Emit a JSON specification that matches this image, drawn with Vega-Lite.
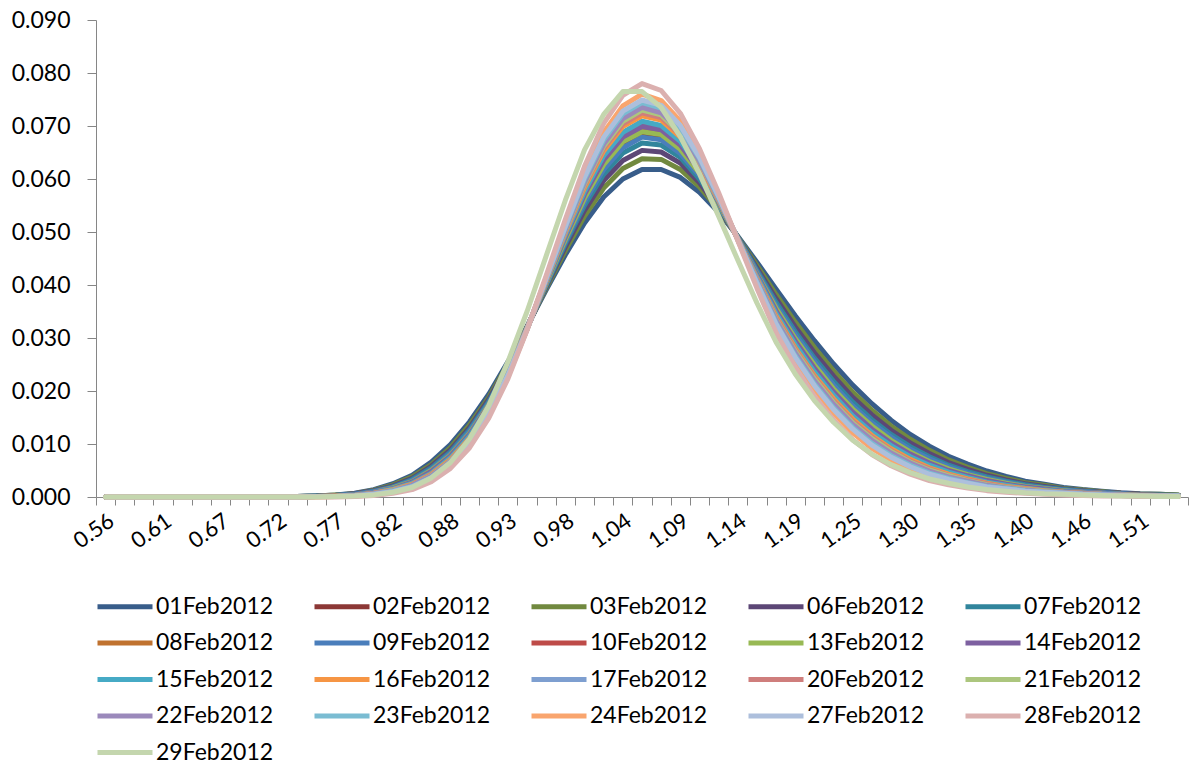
{
"$schema":"https://vega.github.io/schema/vega-lite/v6.json",
"width":1092,"height":477,
"autosize":{"type":"none"},
"padding":{"left":96,"top":20,"right":5,"bottom":268},
"background":"white",
"config":{"view":{"stroke":null},"line":{"strokeWidth":5,"strokeJoin":"round","strokeCap":"round"},"font":"Lato"},
"datasets":{
"d01":[{"x":0.56,"y":0},{"x":0.5776,"y":0},{"x":0.5952,"y":0},{"x":0.6128,"y":0},{"x":0.6304,"y":0},{"x":0.648,"y":0},{"x":0.6656,"y":0},{"x":0.6832,"y":0},{"x":0.7008,"y":0},{"x":0.7184,"y":0},{"x":0.736,"y":0.0001},{"x":0.7536,"y":0.0002},{"x":0.7712,"y":0.0004},{"x":0.7888,"y":0.0007},{"x":0.8064,"y":0.0014},{"x":0.824,"y":0.0025},{"x":0.8416,"y":0.0041},{"x":0.8592,"y":0.0066},{"x":0.8768,"y":0.0099},{"x":0.8944,"y":0.0142},{"x":0.912,"y":0.0194},{"x":0.9296,"y":0.0255},{"x":0.9472,"y":0.0322},{"x":0.9648,"y":0.0391},{"x":0.9824,"y":0.0457},{"x":1,"y":0.0517},{"x":1.0176,"y":0.0566},{"x":1.0352,"y":0.06},{"x":1.0528,"y":0.0618},{"x":1.0704,"y":0.0618},{"x":1.088,"y":0.0603},{"x":1.1056,"y":0.0575},{"x":1.1232,"y":0.0537},{"x":1.1408,"y":0.0492},{"x":1.1584,"y":0.0443},{"x":1.176,"y":0.0392},{"x":1.1936,"y":0.0342},{"x":1.2112,"y":0.0295},{"x":1.2288,"y":0.0251},{"x":1.2464,"y":0.0211},{"x":1.264,"y":0.0176},{"x":1.2816,"y":0.0145},{"x":1.2992,"y":0.0118},{"x":1.3168,"y":0.0096},{"x":1.3344,"y":0.0077},{"x":1.352,"y":0.0062},{"x":1.3696,"y":0.0049},{"x":1.3872,"y":0.0039},{"x":1.4048,"y":0.003},{"x":1.4224,"y":0.0024},{"x":1.44,"y":0.0018},{"x":1.4576,"y":0.0014},{"x":1.4752,"y":0.0011},{"x":1.4928,"y":0.0008},{"x":1.5104,"y":0.0006},{"x":1.528,"y":0.0005},{"x":1.5456,"y":0.0004}],
"d02":[{"x":0.56,"y":0},{"x":0.5776,"y":0},{"x":0.5952,"y":0},{"x":0.6128,"y":0},{"x":0.6304,"y":0},{"x":0.648,"y":0},{"x":0.6656,"y":0},{"x":0.6832,"y":0},{"x":0.7008,"y":0},{"x":0.7184,"y":0},{"x":0.736,"y":0.0001},{"x":0.7536,"y":0.0001},{"x":0.7712,"y":0.0002},{"x":0.7888,"y":0.0005},{"x":0.8064,"y":0.0009},{"x":0.824,"y":0.0018},{"x":0.8416,"y":0.003},{"x":0.8592,"y":0.0051},{"x":0.8768,"y":0.0081},{"x":0.8944,"y":0.0122},{"x":0.912,"y":0.0176},{"x":0.9296,"y":0.0242},{"x":0.9472,"y":0.0319},{"x":0.9648,"y":0.0402},{"x":0.9824,"y":0.0484},{"x":1,"y":0.0561},{"x":1.0176,"y":0.0623},{"x":1.0352,"y":0.0665},{"x":1.0528,"y":0.0684},{"x":1.0704,"y":0.0679},{"x":1.088,"y":0.0653},{"x":1.1056,"y":0.0609},{"x":1.1232,"y":0.0552},{"x":1.1408,"y":0.0489},{"x":1.1584,"y":0.0423},{"x":1.176,"y":0.0358},{"x":1.1936,"y":0.0302},{"x":1.2112,"y":0.0252},{"x":1.2288,"y":0.0208},{"x":1.2464,"y":0.0169},{"x":1.264,"y":0.0137},{"x":1.2816,"y":0.011},{"x":1.2992,"y":0.0087},{"x":1.3168,"y":0.0069},{"x":1.3344,"y":0.0055},{"x":1.352,"y":0.0044},{"x":1.3696,"y":0.0034},{"x":1.3872,"y":0.0027},{"x":1.4048,"y":0.0021},{"x":1.4224,"y":0.0016},{"x":1.44,"y":0.0012},{"x":1.4576,"y":0.0009},{"x":1.4752,"y":0.0007},{"x":1.4928,"y":0.0006},{"x":1.5104,"y":0.0004},{"x":1.528,"y":0.0003},{"x":1.5456,"y":0.0003}],
"d03":[{"x":0.56,"y":0},{"x":0.5776,"y":0},{"x":0.5952,"y":0},{"x":0.6128,"y":0},{"x":0.6304,"y":0},{"x":0.648,"y":0},{"x":0.6656,"y":0},{"x":0.6832,"y":0},{"x":0.7008,"y":0},{"x":0.7184,"y":0},{"x":0.736,"y":0.0001},{"x":0.7536,"y":0.0002},{"x":0.7712,"y":0.0004},{"x":0.7888,"y":0.0006},{"x":0.8064,"y":0.0013},{"x":0.824,"y":0.0023},{"x":0.8416,"y":0.0038},{"x":0.8592,"y":0.0061},{"x":0.8768,"y":0.0093},{"x":0.8944,"y":0.0136},{"x":0.912,"y":0.0188},{"x":0.9296,"y":0.0251},{"x":0.9472,"y":0.0321},{"x":0.9648,"y":0.0394},{"x":0.9824,"y":0.0465},{"x":1,"y":0.053},{"x":1.0176,"y":0.0583},{"x":1.0352,"y":0.062},{"x":1.0528,"y":0.0638},{"x":1.0704,"y":0.0637},{"x":1.088,"y":0.0618},{"x":1.1056,"y":0.0585},{"x":1.1232,"y":0.0542},{"x":1.1408,"y":0.0491},{"x":1.1584,"y":0.0437},{"x":1.176,"y":0.0382},{"x":1.1936,"y":0.033},{"x":1.2112,"y":0.0282},{"x":1.2288,"y":0.0238},{"x":1.2464,"y":0.0198},{"x":1.264,"y":0.0164},{"x":1.2816,"y":0.0134},{"x":1.2992,"y":0.0109},{"x":1.3168,"y":0.0088},{"x":1.3344,"y":0.007},{"x":1.352,"y":0.0056},{"x":1.3696,"y":0.0044},{"x":1.3872,"y":0.0035},{"x":1.4048,"y":0.0027},{"x":1.4224,"y":0.0022},{"x":1.44,"y":0.0016},{"x":1.4576,"y":0.0013},{"x":1.4752,"y":0.001},{"x":1.4928,"y":0.0007},{"x":1.5104,"y":0.0005},{"x":1.528,"y":0.0005},{"x":1.5456,"y":0.0004}],
"d06":[{"x":0.56,"y":0},{"x":0.5776,"y":0},{"x":0.5952,"y":0},{"x":0.6128,"y":0},{"x":0.6304,"y":0},{"x":0.648,"y":0},{"x":0.6656,"y":0},{"x":0.6832,"y":0},{"x":0.7008,"y":0},{"x":0.7184,"y":0},{"x":0.736,"y":0.0001},{"x":0.7536,"y":0.0002},{"x":0.7712,"y":0.0003},{"x":0.7888,"y":0.0006},{"x":0.8064,"y":0.0012},{"x":0.824,"y":0.0021},{"x":0.8416,"y":0.0035},{"x":0.8592,"y":0.0058},{"x":0.8768,"y":0.0089},{"x":0.8944,"y":0.0131},{"x":0.912,"y":0.0184},{"x":0.9296,"y":0.0248},{"x":0.9472,"y":0.032},{"x":0.9648,"y":0.0397},{"x":0.9824,"y":0.0472},{"x":1,"y":0.0541},{"x":1.0176,"y":0.0597},{"x":1.0352,"y":0.0635},{"x":1.0528,"y":0.0654},{"x":1.0704,"y":0.0651},{"x":1.088,"y":0.063},{"x":1.1056,"y":0.0593},{"x":1.1232,"y":0.0545},{"x":1.1408,"y":0.049},{"x":1.1584,"y":0.0432},{"x":1.176,"y":0.0374},{"x":1.1936,"y":0.0321},{"x":1.2112,"y":0.0272},{"x":1.2288,"y":0.0228},{"x":1.2464,"y":0.0188},{"x":1.264,"y":0.0155},{"x":1.2816,"y":0.0126},{"x":1.2992,"y":0.0102},{"x":1.3168,"y":0.0082},{"x":1.3344,"y":0.0065},{"x":1.352,"y":0.0052},{"x":1.3696,"y":0.0041},{"x":1.3872,"y":0.0032},{"x":1.4048,"y":0.0025},{"x":1.4224,"y":0.002},{"x":1.44,"y":0.0015},{"x":1.4576,"y":0.0012},{"x":1.4752,"y":0.0009},{"x":1.4928,"y":0.0007},{"x":1.5104,"y":0.0005},{"x":1.528,"y":0.0004},{"x":1.5456,"y":0.0003}],
"d07":[{"x":0.56,"y":0},{"x":0.5776,"y":0},{"x":0.5952,"y":0},{"x":0.6128,"y":0},{"x":0.6304,"y":0},{"x":0.648,"y":0},{"x":0.6656,"y":0},{"x":0.6832,"y":0},{"x":0.7008,"y":0},{"x":0.7184,"y":0},{"x":0.736,"y":0.0001},{"x":0.7536,"y":0.0002},{"x":0.7712,"y":0.0003},{"x":0.7888,"y":0.0005},{"x":0.8064,"y":0.0011},{"x":0.824,"y":0.0019},{"x":0.8416,"y":0.0033},{"x":0.8592,"y":0.0055},{"x":0.8768,"y":0.0085},{"x":0.8944,"y":0.0127},{"x":0.912,"y":0.018},{"x":0.9296,"y":0.0245},{"x":0.9472,"y":0.032},{"x":0.9648,"y":0.0399},{"x":0.9824,"y":0.0478},{"x":1,"y":0.055},{"x":1.0176,"y":0.0609},{"x":1.0352,"y":0.0649},{"x":1.0528,"y":0.0668},{"x":1.0704,"y":0.0664},{"x":1.088,"y":0.0641},{"x":1.1056,"y":0.06},{"x":1.1232,"y":0.0548},{"x":1.1408,"y":0.049},{"x":1.1584,"y":0.0428},{"x":1.176,"y":0.0367},{"x":1.1936,"y":0.0312},{"x":1.2112,"y":0.0262},{"x":1.2288,"y":0.0218},{"x":1.2464,"y":0.0179},{"x":1.264,"y":0.0146},{"x":1.2816,"y":0.0118},{"x":1.2992,"y":0.0095},{"x":1.3168,"y":0.0076},{"x":1.3344,"y":0.006},{"x":1.352,"y":0.0048},{"x":1.3696,"y":0.0038},{"x":1.3872,"y":0.003},{"x":1.4048,"y":0.0023},{"x":1.4224,"y":0.0018},{"x":1.44,"y":0.0014},{"x":1.4576,"y":0.0011},{"x":1.4752,"y":0.0008},{"x":1.4928,"y":0.0006},{"x":1.5104,"y":0.0004},{"x":1.528,"y":0.0004},{"x":1.5456,"y":0.0003}],
"d08":[{"x":0.56,"y":0},{"x":0.5776,"y":0},{"x":0.5952,"y":0},{"x":0.6128,"y":0},{"x":0.6304,"y":0},{"x":0.648,"y":0},{"x":0.6656,"y":0},{"x":0.6832,"y":0},{"x":0.7008,"y":0},{"x":0.7184,"y":0},{"x":0.736,"y":0.0001},{"x":0.7536,"y":0.0001},{"x":0.7712,"y":0.0002},{"x":0.7888,"y":0.0004},{"x":0.8064,"y":0.0009},{"x":0.824,"y":0.0017},{"x":0.8416,"y":0.0028},{"x":0.8592,"y":0.0049},{"x":0.8768,"y":0.0078},{"x":0.8944,"y":0.0119},{"x":0.912,"y":0.0173},{"x":0.9296,"y":0.024},{"x":0.9472,"y":0.0319},{"x":0.9648,"y":0.0404},{"x":0.9824,"y":0.0488},{"x":1,"y":0.0567},{"x":1.0176,"y":0.0631},{"x":1.0352,"y":0.0674},{"x":1.0528,"y":0.0694},{"x":1.0704,"y":0.0688},{"x":1.088,"y":0.066},{"x":1.1056,"y":0.0614},{"x":1.1232,"y":0.0554},{"x":1.1408,"y":0.0488},{"x":1.1584,"y":0.042},{"x":1.176,"y":0.0353},{"x":1.1936,"y":0.0296},{"x":1.2112,"y":0.0246},{"x":1.2288,"y":0.0201},{"x":1.2464,"y":0.0163},{"x":1.264,"y":0.0131},{"x":1.2816,"y":0.0105},{"x":1.2992,"y":0.0083},{"x":1.3168,"y":0.0065},{"x":1.3344,"y":0.0052},{"x":1.352,"y":0.0041},{"x":1.3696,"y":0.0032},{"x":1.3872,"y":0.0025},{"x":1.4048,"y":0.0019},{"x":1.4224,"y":0.0015},{"x":1.44,"y":0.0011},{"x":1.4576,"y":0.0009},{"x":1.4752,"y":0.0007},{"x":1.4928,"y":0.0005},{"x":1.5104,"y":0.0004},{"x":1.528,"y":0.0003},{"x":1.5456,"y":0.0003}],
"d09":[{"x":0.56,"y":0},{"x":0.5776,"y":0},{"x":0.5952,"y":0},{"x":0.6128,"y":0},{"x":0.6304,"y":0},{"x":0.648,"y":0},{"x":0.6656,"y":0},{"x":0.6832,"y":0},{"x":0.7008,"y":0},{"x":0.7184,"y":0},{"x":0.736,"y":0.0001},{"x":0.7536,"y":0.0001},{"x":0.7712,"y":0.0003},{"x":0.7888,"y":0.0005},{"x":0.8064,"y":0.001},{"x":0.824,"y":0.0018},{"x":0.8416,"y":0.0031},{"x":0.8592,"y":0.0052},{"x":0.8768,"y":0.0082},{"x":0.8944,"y":0.0124},{"x":0.912,"y":0.0177},{"x":0.9296,"y":0.0243},{"x":0.9472,"y":0.0319},{"x":0.9648,"y":0.0401},{"x":0.9824,"y":0.0482},{"x":1,"y":0.0557},{"x":1.0176,"y":0.0618},{"x":1.0352,"y":0.0659},{"x":1.0528,"y":0.0679},{"x":1.0704,"y":0.0674},{"x":1.088,"y":0.0648},{"x":1.1056,"y":0.0606},{"x":1.1232,"y":0.0551},{"x":1.1408,"y":0.0489},{"x":1.1584,"y":0.0425},{"x":1.176,"y":0.0361},{"x":1.1936,"y":0.0306},{"x":1.2112,"y":0.0256},{"x":1.2288,"y":0.0211},{"x":1.2464,"y":0.0172},{"x":1.264,"y":0.014},{"x":1.2816,"y":0.0113},{"x":1.2992,"y":0.009},{"x":1.3168,"y":0.0072},{"x":1.3344,"y":0.0057},{"x":1.352,"y":0.0045},{"x":1.3696,"y":0.0035},{"x":1.3872,"y":0.0028},{"x":1.4048,"y":0.0021},{"x":1.4224,"y":0.0017},{"x":1.44,"y":0.0013},{"x":1.4576,"y":0.001},{"x":1.4752,"y":0.0008},{"x":1.4928,"y":0.0006},{"x":1.5104,"y":0.0004},{"x":1.528,"y":0.0003},{"x":1.5456,"y":0.0003}],
"d10":[{"x":0.56,"y":0},{"x":0.5776,"y":0},{"x":0.5952,"y":0},{"x":0.6128,"y":0},{"x":0.6304,"y":0},{"x":0.648,"y":0},{"x":0.6656,"y":0},{"x":0.6832,"y":0},{"x":0.7008,"y":0},{"x":0.7184,"y":0},{"x":0.736,"y":0.0001},{"x":0.7536,"y":0.0001},{"x":0.7712,"y":0.0002},{"x":0.7888,"y":0.0004},{"x":0.8064,"y":0.0008},{"x":0.824,"y":0.0015},{"x":0.8416,"y":0.0027},{"x":0.8592,"y":0.0046},{"x":0.8768,"y":0.0075},{"x":0.8944,"y":0.0116},{"x":0.912,"y":0.017},{"x":0.9296,"y":0.0238},{"x":0.9472,"y":0.0318},{"x":0.9648,"y":0.0405},{"x":0.9824,"y":0.0493},{"x":1,"y":0.0574},{"x":1.0176,"y":0.064},{"x":1.0352,"y":0.0684},{"x":1.0528,"y":0.0704},{"x":1.0704,"y":0.0697},{"x":1.088,"y":0.0667},{"x":1.1056,"y":0.0618},{"x":1.1232,"y":0.0557},{"x":1.1408,"y":0.0488},{"x":1.1584,"y":0.0417},{"x":1.176,"y":0.0349},{"x":1.1936,"y":0.0291},{"x":1.2112,"y":0.0239},{"x":1.2288,"y":0.0195},{"x":1.2464,"y":0.0156},{"x":1.264,"y":0.0125},{"x":1.2816,"y":0.0099},{"x":1.2992,"y":0.0078},{"x":1.3168,"y":0.0062},{"x":1.3344,"y":0.0048},{"x":1.352,"y":0.0038},{"x":1.3696,"y":0.0029},{"x":1.3872,"y":0.0023},{"x":1.4048,"y":0.0018},{"x":1.4224,"y":0.0014},{"x":1.44,"y":0.0011},{"x":1.4576,"y":0.0008},{"x":1.4752,"y":0.0006},{"x":1.4928,"y":0.0005},{"x":1.5104,"y":0.0003},{"x":1.528,"y":0.0003},{"x":1.5456,"y":0.0002}],
"d13":[{"x":0.56,"y":0},{"x":0.5776,"y":0},{"x":0.5952,"y":0},{"x":0.6128,"y":0},{"x":0.6304,"y":0},{"x":0.648,"y":0},{"x":0.6656,"y":0},{"x":0.6832,"y":0},{"x":0.7008,"y":0},{"x":0.7184,"y":0},{"x":0.736,"y":0.0001},{"x":0.7536,"y":0.0001},{"x":0.7712,"y":0.0002},{"x":0.7888,"y":0.0004},{"x":0.8064,"y":0.0009},{"x":0.824,"y":0.0017},{"x":0.8416,"y":0.0029},{"x":0.8592,"y":0.005},{"x":0.8768,"y":0.0079},{"x":0.8944,"y":0.012},{"x":0.912,"y":0.0174},{"x":0.9296,"y":0.0241},{"x":0.9472,"y":0.0319},{"x":0.9648,"y":0.0403},{"x":0.9824,"y":0.0486},{"x":1,"y":0.0564},{"x":1.0176,"y":0.0627},{"x":1.0352,"y":0.067},{"x":1.0528,"y":0.0689},{"x":1.0704,"y":0.0684},{"x":1.088,"y":0.0656},{"x":1.1056,"y":0.0611},{"x":1.1232,"y":0.0553},{"x":1.1408,"y":0.0488},{"x":1.1584,"y":0.0421},{"x":1.176,"y":0.0356},{"x":1.1936,"y":0.0299},{"x":1.2112,"y":0.0249},{"x":1.2288,"y":0.0204},{"x":1.2464,"y":0.0166},{"x":1.264,"y":0.0134},{"x":1.2816,"y":0.0107},{"x":1.2992,"y":0.0085},{"x":1.3168,"y":0.0067},{"x":1.3344,"y":0.0053},{"x":1.352,"y":0.0042},{"x":1.3696,"y":0.0033},{"x":1.3872,"y":0.0026},{"x":1.4048,"y":0.002},{"x":1.4224,"y":0.0016},{"x":1.44,"y":0.0012},{"x":1.4576,"y":0.0009},{"x":1.4752,"y":0.0007},{"x":1.4928,"y":0.0005},{"x":1.5104,"y":0.0004},{"x":1.528,"y":0.0003},{"x":1.5456,"y":0.0003}],
"d14":[{"x":0.56,"y":0},{"x":0.5776,"y":0},{"x":0.5952,"y":0},{"x":0.6128,"y":0},{"x":0.6304,"y":0},{"x":0.648,"y":0},{"x":0.6656,"y":0},{"x":0.6832,"y":0},{"x":0.7008,"y":0},{"x":0.7184,"y":0},{"x":0.736,"y":0.0001},{"x":0.7536,"y":0.0001},{"x":0.7712,"y":0.0002},{"x":0.7888,"y":0.0004},{"x":0.8064,"y":0.0009},{"x":0.824,"y":0.0016},{"x":0.8416,"y":0.0028},{"x":0.8592,"y":0.0048},{"x":0.8768,"y":0.0077},{"x":0.8944,"y":0.0118},{"x":0.912,"y":0.0172},{"x":0.9296,"y":0.0239},{"x":0.9472,"y":0.0319},{"x":0.9648,"y":0.0405},{"x":0.9824,"y":0.0491},{"x":1,"y":0.0571},{"x":1.0176,"y":0.0636},{"x":1.0352,"y":0.0679},{"x":1.0528,"y":0.0699},{"x":1.0704,"y":0.0693},{"x":1.088,"y":0.0664},{"x":1.1056,"y":0.0616},{"x":1.1232,"y":0.0556},{"x":1.1408,"y":0.0488},{"x":1.1584,"y":0.0419},{"x":1.176,"y":0.0351},{"x":1.1936,"y":0.0294},{"x":1.2112,"y":0.0243},{"x":1.2288,"y":0.0198},{"x":1.2464,"y":0.016},{"x":1.264,"y":0.0128},{"x":1.2816,"y":0.0102},{"x":1.2992,"y":0.0081},{"x":1.3168,"y":0.0064},{"x":1.3344,"y":0.005},{"x":1.352,"y":0.004},{"x":1.3696,"y":0.0031},{"x":1.3872,"y":0.0024},{"x":1.4048,"y":0.0019},{"x":1.4224,"y":0.0015},{"x":1.44,"y":0.0011},{"x":1.4576,"y":0.0009},{"x":1.4752,"y":0.0007},{"x":1.4928,"y":0.0005},{"x":1.5104,"y":0.0004},{"x":1.528,"y":0.0003},{"x":1.5456,"y":0.0003}],
"d15":[{"x":0.56,"y":0},{"x":0.5776,"y":0},{"x":0.5952,"y":0},{"x":0.6128,"y":0},{"x":0.6304,"y":0},{"x":0.648,"y":0},{"x":0.6656,"y":0},{"x":0.6832,"y":0},{"x":0.7008,"y":0},{"x":0.7184,"y":0},{"x":0.736,"y":0.0001},{"x":0.7536,"y":0.0001},{"x":0.7712,"y":0.0002},{"x":0.7888,"y":0.0004},{"x":0.8064,"y":0.0008},{"x":0.824,"y":0.0015},{"x":0.8416,"y":0.0026},{"x":0.8592,"y":0.0045},{"x":0.8768,"y":0.0074},{"x":0.8944,"y":0.0115},{"x":0.912,"y":0.0169},{"x":0.9296,"y":0.0237},{"x":0.9472,"y":0.0318},{"x":0.9648,"y":0.0406},{"x":0.9824,"y":0.0495},{"x":1,"y":0.0577},{"x":1.0176,"y":0.0644},{"x":1.0352,"y":0.0688},{"x":1.0528,"y":0.0709},{"x":1.0704,"y":0.0701},{"x":1.088,"y":0.0671},{"x":1.1056,"y":0.0621},{"x":1.1232,"y":0.0558},{"x":1.1408,"y":0.0488},{"x":1.1584,"y":0.0416},{"x":1.176,"y":0.0346},{"x":1.1936,"y":0.0288},{"x":1.2112,"y":0.0236},{"x":1.2288,"y":0.0192},{"x":1.2464,"y":0.0153},{"x":1.264,"y":0.0122},{"x":1.2816,"y":0.0097},{"x":1.2992,"y":0.0076},{"x":1.3168,"y":0.006},{"x":1.3344,"y":0.0047},{"x":1.352,"y":0.0037},{"x":1.3696,"y":0.0028},{"x":1.3872,"y":0.0022},{"x":1.4048,"y":0.0017},{"x":1.4224,"y":0.0013},{"x":1.44,"y":0.001},{"x":1.4576,"y":0.0008},{"x":1.4752,"y":0.0006},{"x":1.4928,"y":0.0005},{"x":1.5104,"y":0.0003},{"x":1.528,"y":0.0003},{"x":1.5456,"y":0.0002}],
"d16":[{"x":0.56,"y":0},{"x":0.5776,"y":0},{"x":0.5952,"y":0},{"x":0.6128,"y":0},{"x":0.6304,"y":0},{"x":0.648,"y":0},{"x":0.6656,"y":0},{"x":0.6832,"y":0},{"x":0.7008,"y":0},{"x":0.7184,"y":0},{"x":0.736,"y":0},{"x":0.7536,"y":0.0001},{"x":0.7712,"y":0.0002},{"x":0.7888,"y":0.0003},{"x":0.8064,"y":0.0007},{"x":0.824,"y":0.0014},{"x":0.8416,"y":0.0024},{"x":0.8592,"y":0.0043},{"x":0.8768,"y":0.0071},{"x":0.8944,"y":0.0111},{"x":0.912,"y":0.0166},{"x":0.9296,"y":0.0235},{"x":0.9472,"y":0.0318},{"x":0.9648,"y":0.0408},{"x":0.9824,"y":0.0499},{"x":1,"y":0.0584},{"x":1.0176,"y":0.0653},{"x":1.0352,"y":0.0699},{"x":1.0528,"y":0.0719},{"x":1.0704,"y":0.0711},{"x":1.088,"y":0.0679},{"x":1.1056,"y":0.0626},{"x":1.1232,"y":0.056},{"x":1.1408,"y":0.0487},{"x":1.1584,"y":0.0412},{"x":1.176,"y":0.0341},{"x":1.1936,"y":0.0281},{"x":1.2112,"y":0.0229},{"x":1.2288,"y":0.0185},{"x":1.2464,"y":0.0147},{"x":1.264,"y":0.0116},{"x":1.2816,"y":0.0091},{"x":1.2992,"y":0.0071},{"x":1.3168,"y":0.0055},{"x":1.3344,"y":0.0043},{"x":1.352,"y":0.0034},{"x":1.3696,"y":0.0026},{"x":1.3872,"y":0.002},{"x":1.4048,"y":0.0016},{"x":1.4224,"y":0.0012},{"x":1.44,"y":0.0009},{"x":1.4576,"y":0.0007},{"x":1.4752,"y":0.0005},{"x":1.4928,"y":0.0004},{"x":1.5104,"y":0.0003},{"x":1.528,"y":0.0002},{"x":1.5456,"y":0.0002}],
"d17":[{"x":0.56,"y":0},{"x":0.5776,"y":0},{"x":0.5952,"y":0},{"x":0.6128,"y":0},{"x":0.6304,"y":0},{"x":0.648,"y":0},{"x":0.6656,"y":0},{"x":0.6832,"y":0},{"x":0.7008,"y":0},{"x":0.7184,"y":0},{"x":0.736,"y":0},{"x":0.7536,"y":0.0001},{"x":0.7712,"y":0.0001},{"x":0.7888,"y":0.0003},{"x":0.8064,"y":0.0006},{"x":0.824,"y":0.0012},{"x":0.8416,"y":0.0021},{"x":0.8592,"y":0.0038},{"x":0.8768,"y":0.0065},{"x":0.8944,"y":0.0105},{"x":0.912,"y":0.016},{"x":0.9296,"y":0.0231},{"x":0.9472,"y":0.0317},{"x":0.9648,"y":0.0411},{"x":0.9824,"y":0.0507},{"x":1,"y":0.0597},{"x":1.0176,"y":0.067},{"x":1.0352,"y":0.0719},{"x":1.0528,"y":0.074},{"x":1.0704,"y":0.073},{"x":1.088,"y":0.0694},{"x":1.1056,"y":0.0637},{"x":1.1232,"y":0.0565},{"x":1.1408,"y":0.0486},{"x":1.1584,"y":0.0406},{"x":1.176,"y":0.0331},{"x":1.1936,"y":0.0269},{"x":1.2112,"y":0.0216},{"x":1.2288,"y":0.0172},{"x":1.2464,"y":0.0134},{"x":1.264,"y":0.0104},{"x":1.2816,"y":0.0081},{"x":1.2992,"y":0.0062},{"x":1.3168,"y":0.0047},{"x":1.3344,"y":0.0037},{"x":1.352,"y":0.0028},{"x":1.3696,"y":0.0021},{"x":1.3872,"y":0.0017},{"x":1.4048,"y":0.0013},{"x":1.4224,"y":0.001},{"x":1.44,"y":0.0008},{"x":1.4576,"y":0.0006},{"x":1.4752,"y":0.0004},{"x":1.4928,"y":0.0004},{"x":1.5104,"y":0.0002},{"x":1.528,"y":0.0002},{"x":1.5456,"y":0.0002}],
"d20":[{"x":0.56,"y":0},{"x":0.5776,"y":0},{"x":0.5952,"y":0},{"x":0.6128,"y":0},{"x":0.6304,"y":0},{"x":0.648,"y":0},{"x":0.6656,"y":0},{"x":0.6832,"y":0},{"x":0.7008,"y":0},{"x":0.7184,"y":0},{"x":0.736,"y":0},{"x":0.7536,"y":0.0001},{"x":0.7712,"y":0.0001},{"x":0.7888,"y":0.0003},{"x":0.8064,"y":0.0007},{"x":0.824,"y":0.0013},{"x":0.8416,"y":0.0023},{"x":0.8592,"y":0.0042},{"x":0.8768,"y":0.0069},{"x":0.8944,"y":0.011},{"x":0.912,"y":0.0164},{"x":0.9296,"y":0.0234},{"x":0.9472,"y":0.0317},{"x":0.9648,"y":0.0409},{"x":0.9824,"y":0.0501},{"x":1,"y":0.0588},{"x":1.0176,"y":0.0658},{"x":1.0352,"y":0.0704},{"x":1.0528,"y":0.0725},{"x":1.0704,"y":0.0716},{"x":1.088,"y":0.0683},{"x":1.1056,"y":0.0629},{"x":1.1232,"y":0.0561},{"x":1.1408,"y":0.0487},{"x":1.1584,"y":0.0411},{"x":1.176,"y":0.0338},{"x":1.1936,"y":0.0278},{"x":1.2112,"y":0.0226},{"x":1.2288,"y":0.0181},{"x":1.2464,"y":0.0143},{"x":1.264,"y":0.0113},{"x":1.2816,"y":0.0088},{"x":1.2992,"y":0.0068},{"x":1.3168,"y":0.0053},{"x":1.3344,"y":0.0041},{"x":1.352,"y":0.0032},{"x":1.3696,"y":0.0025},{"x":1.3872,"y":0.0019},{"x":1.4048,"y":0.0015},{"x":1.4224,"y":0.0011},{"x":1.44,"y":0.0009},{"x":1.4576,"y":0.0007},{"x":1.4752,"y":0.0005},{"x":1.4928,"y":0.0004},{"x":1.5104,"y":0.0003},{"x":1.528,"y":0.0002},{"x":1.5456,"y":0.0002}],
"d21":[{"x":0.56,"y":0},{"x":0.5776,"y":0},{"x":0.5952,"y":0},{"x":0.6128,"y":0},{"x":0.6304,"y":0},{"x":0.648,"y":0},{"x":0.6656,"y":0},{"x":0.6832,"y":0},{"x":0.7008,"y":0},{"x":0.7184,"y":0},{"x":0.736,"y":0},{"x":0.7536,"y":0.0001},{"x":0.7712,"y":0.0001},{"x":0.7888,"y":0.0003},{"x":0.8064,"y":0.0006},{"x":0.824,"y":0.0013},{"x":0.8416,"y":0.0022},{"x":0.8592,"y":0.004},{"x":0.8768,"y":0.0068},{"x":0.8944,"y":0.0108},{"x":0.912,"y":0.0163},{"x":0.9296,"y":0.0233},{"x":0.9472,"y":0.0317},{"x":0.9648,"y":0.041},{"x":0.9824,"y":0.0503},{"x":1,"y":0.0591},{"x":1.0176,"y":0.0662},{"x":1.0352,"y":0.0709},{"x":1.0528,"y":0.073},{"x":1.0704,"y":0.0721},{"x":1.088,"y":0.0686},{"x":1.1056,"y":0.0632},{"x":1.1232,"y":0.0563},{"x":1.1408,"y":0.0486},{"x":1.1584,"y":0.0409},{"x":1.176,"y":0.0335},{"x":1.1936,"y":0.0275},{"x":1.2112,"y":0.0223},{"x":1.2288,"y":0.0178},{"x":1.2464,"y":0.014},{"x":1.264,"y":0.011},{"x":1.2816,"y":0.0086},{"x":1.2992,"y":0.0066},{"x":1.3168,"y":0.0051},{"x":1.3344,"y":0.004},{"x":1.352,"y":0.0031},{"x":1.3696,"y":0.0023},{"x":1.3872,"y":0.0018},{"x":1.4048,"y":0.0014},{"x":1.4224,"y":0.0011},{"x":1.44,"y":0.0008},{"x":1.4576,"y":0.0006},{"x":1.4752,"y":0.0005},{"x":1.4928,"y":0.0004},{"x":1.5104,"y":0.0003},{"x":1.528,"y":0.0002},{"x":1.5456,"y":0.0002}],
"d22":[{"x":0.56,"y":0},{"x":0.5776,"y":0},{"x":0.5952,"y":0},{"x":0.6128,"y":0},{"x":0.6304,"y":0},{"x":0.648,"y":0},{"x":0.6656,"y":0},{"x":0.6832,"y":0},{"x":0.7008,"y":0},{"x":0.7184,"y":0},{"x":0.736,"y":0},{"x":0.7536,"y":0.0001},{"x":0.7712,"y":0.0001},{"x":0.7888,"y":0.0003},{"x":0.8064,"y":0.0006},{"x":0.824,"y":0.0012},{"x":0.8416,"y":0.0022},{"x":0.8592,"y":0.0039},{"x":0.8768,"y":0.0067},{"x":0.8944,"y":0.0107},{"x":0.912,"y":0.0162},{"x":0.9296,"y":0.0232},{"x":0.9472,"y":0.0317},{"x":0.9648,"y":0.041},{"x":0.9824,"y":0.0505},{"x":1,"y":0.0594},{"x":1.0176,"y":0.0666},{"x":1.0352,"y":0.0714},{"x":1.0528,"y":0.0735},{"x":1.0704,"y":0.0725},{"x":1.088,"y":0.069},{"x":1.1056,"y":0.0634},{"x":1.1232,"y":0.0564},{"x":1.1408,"y":0.0486},{"x":1.1584,"y":0.0408},{"x":1.176,"y":0.0333},{"x":1.1936,"y":0.0272},{"x":1.2112,"y":0.0219},{"x":1.2288,"y":0.0175},{"x":1.2464,"y":0.0137},{"x":1.264,"y":0.0107},{"x":1.2816,"y":0.0083},{"x":1.2992,"y":0.0064},{"x":1.3168,"y":0.0049},{"x":1.3344,"y":0.0038},{"x":1.352,"y":0.003},{"x":1.3696,"y":0.0022},{"x":1.3872,"y":0.0017},{"x":1.4048,"y":0.0013},{"x":1.4224,"y":0.001},{"x":1.44,"y":0.0008},{"x":1.4576,"y":0.0006},{"x":1.4752,"y":0.0005},{"x":1.4928,"y":0.0004},{"x":1.5104,"y":0.0002},{"x":1.528,"y":0.0002},{"x":1.5456,"y":0.0002}],
"d23":[{"x":0.56,"y":0},{"x":0.5776,"y":0},{"x":0.5952,"y":0},{"x":0.6128,"y":0},{"x":0.6304,"y":0},{"x":0.648,"y":0},{"x":0.6656,"y":0},{"x":0.6832,"y":0},{"x":0.7008,"y":0},{"x":0.7184,"y":0},{"x":0.736,"y":0},{"x":0.7536,"y":0.0001},{"x":0.7712,"y":0.0001},{"x":0.7888,"y":0.0002},{"x":0.8064,"y":0.0005},{"x":0.824,"y":0.0011},{"x":0.8416,"y":0.002},{"x":0.8592,"y":0.0037},{"x":0.8768,"y":0.0064},{"x":0.8944,"y":0.0104},{"x":0.912,"y":0.0159},{"x":0.9296,"y":0.023},{"x":0.9472,"y":0.0317},{"x":0.9648,"y":0.0412},{"x":0.9824,"y":0.0509},{"x":1,"y":0.06},{"x":1.0176,"y":0.0674},{"x":1.0352,"y":0.0723},{"x":1.0528,"y":0.0744},{"x":1.0704,"y":0.0734},{"x":1.088,"y":0.0697},{"x":1.1056,"y":0.0639},{"x":1.1232,"y":0.0566},{"x":1.1408,"y":0.0486},{"x":1.1584,"y":0.0405},{"x":1.176,"y":0.0328},{"x":1.1936,"y":0.0266},{"x":1.2112,"y":0.0213},{"x":1.2288,"y":0.0168},{"x":1.2464,"y":0.0131},{"x":1.264,"y":0.0101},{"x":1.2816,"y":0.0078},{"x":1.2992,"y":0.006},{"x":1.3168,"y":0.0045},{"x":1.3344,"y":0.0035},{"x":1.352,"y":0.0027},{"x":1.3696,"y":0.002},{"x":1.3872,"y":0.0016},{"x":1.4048,"y":0.0012},{"x":1.4224,"y":0.0009},{"x":1.44,"y":0.0007},{"x":1.4576,"y":0.0005},{"x":1.4752,"y":0.0004},{"x":1.4928,"y":0.0003},{"x":1.5104,"y":0.0002},{"x":1.528,"y":0.0002},{"x":1.5456,"y":0.0002}],
"d24":[{"x":0.56,"y":0},{"x":0.5776,"y":0},{"x":0.5952,"y":0},{"x":0.6128,"y":0},{"x":0.6304,"y":0},{"x":0.648,"y":0},{"x":0.6656,"y":0},{"x":0.6832,"y":0},{"x":0.7008,"y":0},{"x":0.7184,"y":0},{"x":0.736,"y":0},{"x":0.7536,"y":0},{"x":0.7712,"y":0.0001},{"x":0.7888,"y":0.0002},{"x":0.8064,"y":0.0004},{"x":0.824,"y":0.0009},{"x":0.8416,"y":0.0017},{"x":0.8592,"y":0.0034},{"x":0.8768,"y":0.006},{"x":0.8944,"y":0.0099},{"x":0.912,"y":0.0155},{"x":0.9296,"y":0.0227},{"x":0.9472,"y":0.0316},{"x":0.9648,"y":0.0415},{"x":0.9824,"y":0.0516},{"x":1,"y":0.0611},{"x":1.0176,"y":0.0688},{"x":1.0352,"y":0.0738},{"x":1.0528,"y":0.076},{"x":1.0704,"y":0.0748},{"x":1.088,"y":0.0709},{"x":1.1056,"y":0.0647},{"x":1.1232,"y":0.0569},{"x":1.1408,"y":0.0485},{"x":1.1584,"y":0.04},{"x":1.176,"y":0.032},{"x":1.1936,"y":0.0257},{"x":1.2112,"y":0.0203},{"x":1.2288,"y":0.0158},{"x":1.2464,"y":0.0121},{"x":1.264,"y":0.0092},{"x":1.2816,"y":0.007},{"x":1.2992,"y":0.0052},{"x":1.3168,"y":0.0039},{"x":1.3344,"y":0.003},{"x":1.352,"y":0.0023},{"x":1.3696,"y":0.0017},{"x":1.3872,"y":0.0013},{"x":1.4048,"y":0.001},{"x":1.4224,"y":0.0007},{"x":1.44,"y":0.0006},{"x":1.4576,"y":0.0004},{"x":1.4752,"y":0.0003},{"x":1.4928,"y":0.0003},{"x":1.5104,"y":0.0002},{"x":1.528,"y":0.0002},{"x":1.5456,"y":0.0001}],
"d27":[{"x":0.56,"y":0},{"x":0.5776,"y":0},{"x":0.5952,"y":0},{"x":0.6128,"y":0},{"x":0.6304,"y":0},{"x":0.648,"y":0},{"x":0.6656,"y":0},{"x":0.6832,"y":0},{"x":0.7008,"y":0},{"x":0.7184,"y":0},{"x":0.736,"y":0},{"x":0.7536,"y":0.0001},{"x":0.7712,"y":0.0001},{"x":0.7888,"y":0.0002},{"x":0.8064,"y":0.0005},{"x":0.824,"y":0.001},{"x":0.8416,"y":0.0019},{"x":0.8592,"y":0.0036},{"x":0.8768,"y":0.0063},{"x":0.8944,"y":0.0102},{"x":0.912,"y":0.0158},{"x":0.9296,"y":0.0229},{"x":0.9472,"y":0.0316},{"x":0.9648,"y":0.0413},{"x":0.9824,"y":0.0511},{"x":1,"y":0.0604},{"x":1.0176,"y":0.0679},{"x":1.0352,"y":0.0728},{"x":1.0528,"y":0.0749},{"x":1.0704,"y":0.0739},{"x":1.088,"y":0.0701},{"x":1.1056,"y":0.0641},{"x":1.1232,"y":0.0567},{"x":1.1408,"y":0.0486},{"x":1.1584,"y":0.0403},{"x":1.176,"y":0.0326},{"x":1.1936,"y":0.0263},{"x":1.2112,"y":0.021},{"x":1.2288,"y":0.0165},{"x":1.2464,"y":0.0128},{"x":1.264,"y":0.0098},{"x":1.2816,"y":0.0075},{"x":1.2992,"y":0.0057},{"x":1.3168,"y":0.0043},{"x":1.3344,"y":0.0033},{"x":1.352,"y":0.0026},{"x":1.3696,"y":0.0019},{"x":1.3872,"y":0.0015},{"x":1.4048,"y":0.0011},{"x":1.4224,"y":0.0009},{"x":1.44,"y":0.0007},{"x":1.4576,"y":0.0005},{"x":1.4752,"y":0.0004},{"x":1.4928,"y":0.0003},{"x":1.5104,"y":0.0002},{"x":1.528,"y":0.0002},{"x":1.5456,"y":0.0002}],
"d28":[{"x":0.56,"y":0},{"x":0.5776,"y":0},{"x":0.5952,"y":0},{"x":0.6128,"y":0},{"x":0.6304,"y":0},{"x":0.648,"y":0},{"x":0.6656,"y":0},{"x":0.6832,"y":0},{"x":0.7008,"y":0},{"x":0.7184,"y":0},{"x":0.736,"y":0},{"x":0.7536,"y":0},{"x":0.7712,"y":0},{"x":0.7888,"y":0.0001},{"x":0.8064,"y":0.0003},{"x":0.824,"y":0.0007},{"x":0.8416,"y":0.0014},{"x":0.8592,"y":0.0029},{"x":0.8768,"y":0.0054},{"x":0.8944,"y":0.0093},{"x":0.912,"y":0.0149},{"x":0.9296,"y":0.0223},{"x":0.9472,"y":0.0315},{"x":0.9648,"y":0.0418},{"x":0.9824,"y":0.0524},{"x":1,"y":0.0624},{"x":1.0176,"y":0.0705},{"x":1.0352,"y":0.0758},{"x":1.0528,"y":0.078},{"x":1.0704,"y":0.0767},{"x":1.088,"y":0.0724},{"x":1.1056,"y":0.0657},{"x":1.1232,"y":0.0574},{"x":1.1408,"y":0.0484},{"x":1.1584,"y":0.0394},{"x":1.176,"y":0.031},{"x":1.1936,"y":0.0245},{"x":1.2112,"y":0.019},{"x":1.2288,"y":0.0145},{"x":1.2464,"y":0.0108},{"x":1.264,"y":0.008},{"x":1.2816,"y":0.0059},{"x":1.2992,"y":0.0043},{"x":1.3168,"y":0.0031},{"x":1.3344,"y":0.0023},{"x":1.352,"y":0.0017},{"x":1.3696,"y":0.0012},{"x":1.3872,"y":0.0009},{"x":1.4048,"y":0.0007},{"x":1.4224,"y":0.0005},{"x":1.44,"y":0.0004},{"x":1.4576,"y":0.0003},{"x":1.4752,"y":0.0002},{"x":1.4928,"y":0.0002},{"x":1.5104,"y":0.0001},{"x":1.528,"y":0.0001},{"x":1.5456,"y":0.0001}],
"d29":[{"x":0.56,"y":0},{"x":0.5776,"y":0},{"x":0.5952,"y":0},{"x":0.6128,"y":0},{"x":0.6304,"y":0},{"x":0.648,"y":0},{"x":0.6656,"y":0},{"x":0.6832,"y":0},{"x":0.7008,"y":0},{"x":0.7184,"y":0},{"x":0.736,"y":0},{"x":0.7536,"y":0},{"x":0.7712,"y":0.0001},{"x":0.7888,"y":0.0002},{"x":0.8064,"y":0.0004},{"x":0.824,"y":0.0009},{"x":0.8416,"y":0.0018},{"x":0.8592,"y":0.0036},{"x":0.8768,"y":0.0065},{"x":0.8944,"y":0.011},{"x":0.912,"y":0.0172},{"x":0.9296,"y":0.0255},{"x":0.9472,"y":0.035},{"x":0.9648,"y":0.0455},{"x":0.9824,"y":0.056},{"x":1,"y":0.0655},{"x":1.0176,"y":0.0722},{"x":1.0352,"y":0.0765},{"x":1.0528,"y":0.0765},{"x":1.0704,"y":0.0735},{"x":1.088,"y":0.068},{"x":1.1056,"y":0.061},{"x":1.1232,"y":0.053},{"x":1.1408,"y":0.0447},{"x":1.1584,"y":0.0366},{"x":1.176,"y":0.0292},{"x":1.1936,"y":0.0232},{"x":1.2112,"y":0.0182},{"x":1.2288,"y":0.0141},{"x":1.2464,"y":0.0107},{"x":1.264,"y":0.0081},{"x":1.2816,"y":0.0061},{"x":1.2992,"y":0.0046},{"x":1.3168,"y":0.0034},{"x":1.3344,"y":0.0026},{"x":1.352,"y":0.0019},{"x":1.3696,"y":0.0014},{"x":1.3872,"y":0.0011},{"x":1.4048,"y":0.0008},{"x":1.4224,"y":0.0006},{"x":1.44,"y":0.0005},{"x":1.4576,"y":0.0004},{"x":1.4752,"y":0.0003},{"x":1.4928,"y":0.0002},{"x":1.5104,"y":0.0002},{"x":1.528,"y":0.0001},{"x":1.5456,"y":0.0001}]
},
"encoding":{
"x":{"field":"x","type":"ordinal","sort":"ascending","bandPosition":0.5,"scale":{"type":"band","paddingInner":0,"paddingOuter":0},
"axis":{"title":null,"tickBand":"extent","labelExpr":"round(datum.index*56) % 3 == 0 ? format(datum.value, '.2f') : ''","labelAngle":-35,"labelFont":"Lato","labelFontSize":22,"labelColor":"#000000","domainColor":"#868686","tickColor":"#868686","tickSize":8,"labelPadding":5,"labelOverlap":false,"labelBound":false}},
"y":{"field":"y","type":"quantitative","scale":{"domain":[0,0.09],"nice":false},
"axis":{"title":null,"values":[0,0.01,0.02,0.03,0.04,0.05,0.06,0.07,0.08,0.09],"format":".3f","grid":false,"labelFont":"Lato","labelFontSize":23,"labelColor":"#000000","domainColor":"#868686","tickColor":"#868686","tickSize":9,"labelPadding":17}}
},
"layer":[
{"data":{"name":"d01"},"mark":"line","encoding":{"color":{"datum":"01Feb2012","type":"nominal",
"scale":{"domain":["01Feb2012","02Feb2012","03Feb2012","06Feb2012","07Feb2012","08Feb2012","09Feb2012","10Feb2012","13Feb2012","14Feb2012","15Feb2012","16Feb2012","17Feb2012","20Feb2012","21Feb2012","22Feb2012","23Feb2012","24Feb2012","27Feb2012","28Feb2012","29Feb2012"],
"range":["#385D8A","#8C3836","#71893F","#5C4776","#31859C","#C0722F","#4A7EBB","#BE4B48","#98B954","#7D60A0","#46AAC5","#F69544","#7E9FD0","#CF7E7C","#ACC67E","#9B89BB","#7ABCD2","#F9A56E","#ADBFDC","#DBB0AF","#C4D6AE"]},
"legend":{"title":null,"orient":"none","legendX":-1,"legendY":573,"direction":"horizontal","columns":5,"symbolType":"M0,0L5,0","symbolSize":484,"symbolStrokeWidth":5,"symbolOffset":-11,"labelFont":"Lato","labelFontSize":23,"labelColor":"#000000","labelOffset":45,"columnPadding":38,"rowPadding":10.5,"padding":0,"symbolLimit":0}}}},
{"data":{"name":"d02"},"mark":"line","encoding":{"color":{"datum":"02Feb2012","type":"nominal"}}},
{"data":{"name":"d03"},"mark":"line","encoding":{"color":{"datum":"03Feb2012","type":"nominal"}}},
{"data":{"name":"d06"},"mark":"line","encoding":{"color":{"datum":"06Feb2012","type":"nominal"}}},
{"data":{"name":"d07"},"mark":"line","encoding":{"color":{"datum":"07Feb2012","type":"nominal"}}},
{"data":{"name":"d08"},"mark":"line","encoding":{"color":{"datum":"08Feb2012","type":"nominal"}}},
{"data":{"name":"d09"},"mark":"line","encoding":{"color":{"datum":"09Feb2012","type":"nominal"}}},
{"data":{"name":"d10"},"mark":"line","encoding":{"color":{"datum":"10Feb2012","type":"nominal"}}},
{"data":{"name":"d13"},"mark":"line","encoding":{"color":{"datum":"13Feb2012","type":"nominal"}}},
{"data":{"name":"d14"},"mark":"line","encoding":{"color":{"datum":"14Feb2012","type":"nominal"}}},
{"data":{"name":"d15"},"mark":"line","encoding":{"color":{"datum":"15Feb2012","type":"nominal"}}},
{"data":{"name":"d16"},"mark":"line","encoding":{"color":{"datum":"16Feb2012","type":"nominal"}}},
{"data":{"name":"d17"},"mark":"line","encoding":{"color":{"datum":"17Feb2012","type":"nominal"}}},
{"data":{"name":"d20"},"mark":"line","encoding":{"color":{"datum":"20Feb2012","type":"nominal"}}},
{"data":{"name":"d21"},"mark":"line","encoding":{"color":{"datum":"21Feb2012","type":"nominal"}}},
{"data":{"name":"d22"},"mark":"line","encoding":{"color":{"datum":"22Feb2012","type":"nominal"}}},
{"data":{"name":"d23"},"mark":"line","encoding":{"color":{"datum":"23Feb2012","type":"nominal"}}},
{"data":{"name":"d24"},"mark":"line","encoding":{"color":{"datum":"24Feb2012","type":"nominal"}}},
{"data":{"name":"d27"},"mark":"line","encoding":{"color":{"datum":"27Feb2012","type":"nominal"}}},
{"data":{"name":"d28"},"mark":"line","encoding":{"color":{"datum":"28Feb2012","type":"nominal"}}},
{"data":{"name":"d29"},"mark":"line","encoding":{"color":{"datum":"29Feb2012","type":"nominal"}}}
]
}
